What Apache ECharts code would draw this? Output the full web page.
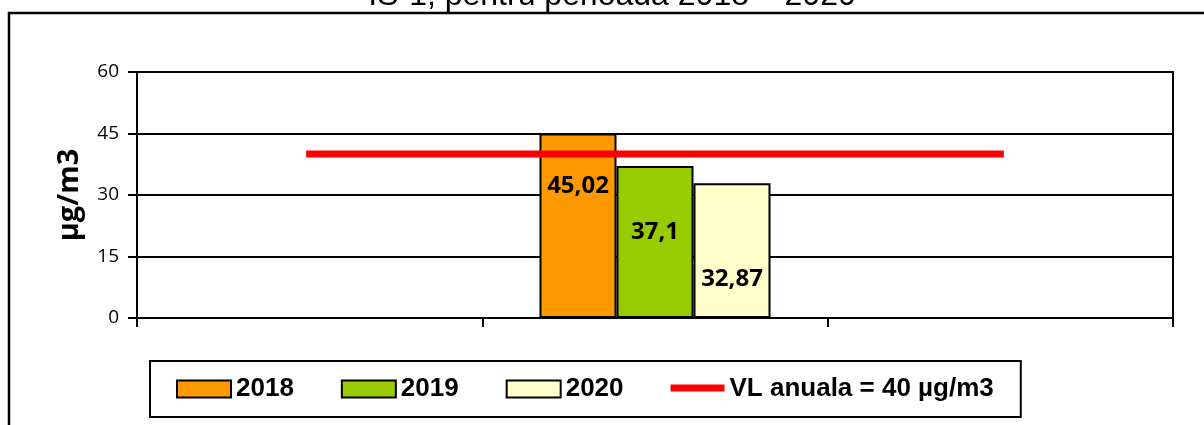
<!DOCTYPE html>
<html>
<head>
<meta charset="utf-8">
<script src="https://cdn.jsdelivr.net/npm/echarts@6/dist/echarts.min.js"></script>
<style>
  html, body { margin: 0; padding: 0; background: #fff; }
  #chart { width: 1204px; height: 425px; }
</style>
</head>
<body>
<div id="chart"></div>
<script>
// date
const categories = ['1', '2', '3']
const years = ['2018', '2019', '2020']
const val2018 = ['-', 45.02, '-']
const val2019 = ['-', 37.1, '-']
const val2020 = ['-', 32.87, '-']
const limitName = 'VL anuala = 40 µg/m3'
const limitValues = [40, 40, 40]
const yTicks = [0, 15, 30, 45, 60]

const barColors = ['#FF9900', '#99CC00', '#FFFFCC']
const barValues = [val2018, val2019, val2020]
// pozitia etichetei in interiorul barei (px de la varful barei)
const labelOffsets = [53, 66, 96]

const chart = echarts.init(document.getElementById('chart'))

const comma = p => String(p.value).replace('.', ',')

const barSeries = years.map((y, i) => ({
  name: y,
  type: 'bar',
  data: barValues[i],
  barWidth: 77,
  barGap: '0%',
  itemStyle: { color: barColors[i], borderColor: '#000', borderWidth: 2 },
  label: {
    show: true,
    position: ['50%', labelOffsets[i]],
    align: 'center',
    verticalAlign: 'middle',
    formatter: comma,
    color: '#000',
    fontFamily: 'Open Sans',
    fontWeight: 'bold',
    fontSize: 24
  }
}))

// linie groasa pentru legenda (puncte M pastreaza caseta 54x17)
const lineIcon = 'path://M0,0L0,0M0,4L54,4L54,11L0,11ZM54,17L54,17'

const option = {
  animation: false,
  graphic: [
    {
      type: 'rect',
      shape: { x: 9, y: 13, width: 1300, height: 600 },
      style: { fill: 'none', stroke: '#000', lineWidth: 2.5 },
      silent: true
    },
    {
      type: 'text',
      x: 612,
      y: 12,
      style: {
        text: 'IS-1, pentru perioada 2018 – 2020',
        font: '32px "Liberation Sans"',
        fill: '#000',
        align: 'center',
        verticalAlign: 'bottom'
      }
    }
  ],
  grid: {
    left: 137,
    right: 31,
    top: 72,
    bottom: 107,
    show: true,
    borderColor: '#000',
    borderWidth: 2
  },
  legend: {
    left: 150,
    top: 361,
    padding: [15, 27, 15, 26],
    borderColor: '#000',
    borderWidth: 2,
    itemGap: 47,
    itemWidth: 54,
    itemHeight: 17,
    textStyle: {
      fontFamily: 'Liberation Sans',
      fontWeight: 'bold',
      fontSize: 26,
      color: '#000'
    },
    data: [
      { name: years[0], icon: 'rect' },
      { name: years[1], icon: 'rect' },
      { name: years[2], icon: 'rect' },
      { name: limitName, icon: lineIcon, itemStyle: { color: '#FF0000', borderWidth: 0 } }
    ]
  },
  xAxis: {
    type: 'category',
    data: categories,
    boundaryGap: true,
    axisLine: { lineStyle: { color: '#000', width: 2 } },
    axisTick: { show: true, length: 9, lineStyle: { color: '#000', width: 2 } },
    axisLabel: { show: false }
  },
  yAxis: {
    type: 'value',
    min: yTicks[0],
    max: yTicks[yTicks.length - 1],
    interval: 15,
    name: 'µg/m3',
    nameLocation: 'middle',
    nameGap: 53,
    nameRotate: 90,
    nameTextStyle: {
      fontFamily: 'Open Sans',
      fontWeight: 'bold',
      fontSize: 29,
      color: '#000'
    },
    axisLine: { show: true, lineStyle: { color: '#000', width: 2 } },
    axisTick: { show: true, length: 9, lineStyle: { color: '#000', width: 2 } },
    axisLabel: {
      margin: 18,
      color: '#000',
      fontFamily: 'Open Sans',
      fontSize: 19
    },
    splitLine: { lineStyle: { color: '#000', width: 2 } }
  },
  series: [
    ...barSeries,
    {
      name: limitName,
      type: 'line',
      data: limitValues,
      showSymbol: false,
      symbol: 'none',
      itemStyle: { color: '#FF0000' },
      lineStyle: { color: '#FF0000', width: 7, cap: 'square' },
      z: 5
    }
  ]
}

chart.setOption(option)
</script>
</body>
</html>
